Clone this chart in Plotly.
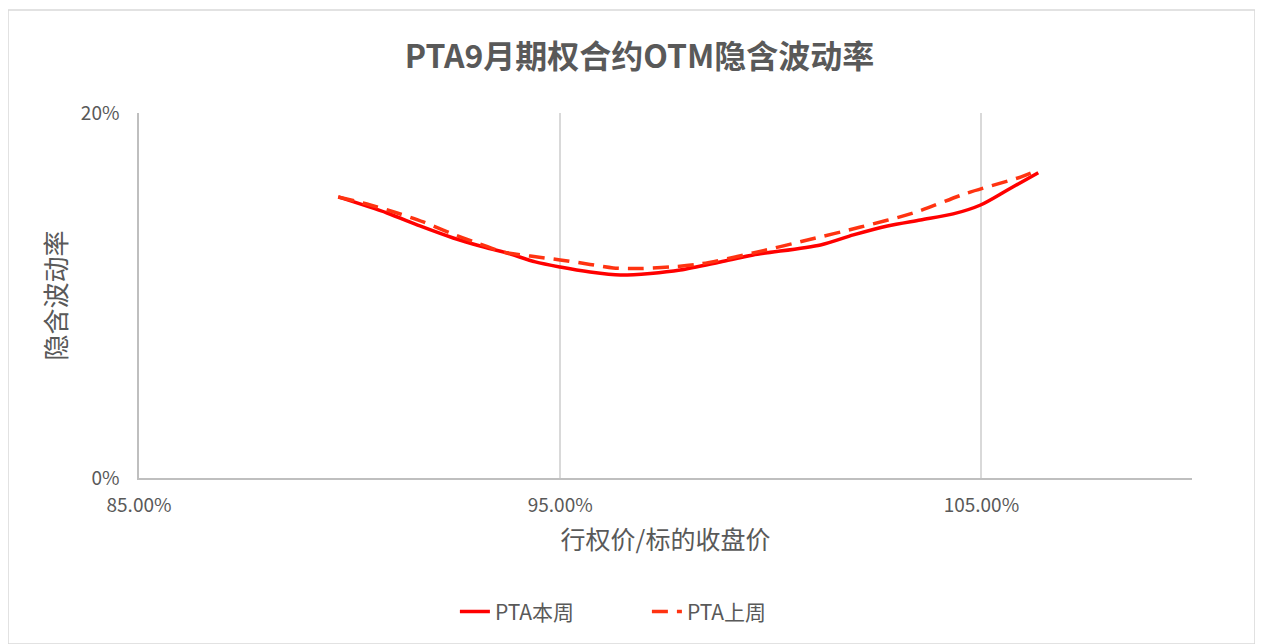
import plotly.graph_objects as go

# strike / underlying close, implied vol
this_week_x = [0.8973, 0.9089, 0.9167, 0.9246, 0.9310, 0.9374, 0.9441, 0.9500, 0.9571, 0.9643,
               0.9714, 0.9785, 0.9880, 0.9958, 1.0118, 1.0196, 1.0277, 1.0355, 1.0433, 1.0498,
               1.0562, 1.0635]
this_week_y = [0.1540, 0.1452, 0.1381, 0.1315, 0.1271, 0.1233, 0.1184, 0.1156, 0.1129, 0.1112,
               0.1121, 0.1140, 0.1184, 0.1222, 0.1277, 0.1332, 0.1381, 0.1414, 0.1447, 0.1496,
               0.1578, 0.1673]

last_week_x = [0.8973, 0.9049, 0.9113, 0.9175, 0.9239, 0.9303, 0.9365, 0.9429, 0.9500, 0.9564,
               0.9626, 0.9690, 0.9761, 0.9833, 0.9958, 1.0087, 1.0213, 1.0338, 1.0467, 1.0593,
               1.0624]
last_week_y = [0.1540, 0.1496, 0.1452, 0.1403, 0.1342, 0.1288, 0.1238, 0.1216, 0.1195, 0.1173,
               0.1151, 0.1148, 0.1156, 0.1173, 0.1233, 0.1304, 0.1375, 0.1452, 0.1562, 0.1649,
               0.1677]

text_color = "#595959"
font_family = "Noto Sans CJK SC, Noto Sans, sans-serif"

fig = go.Figure()
fig.add_trace(go.Scatter(
    x=this_week_x, y=this_week_y, mode="lines", name="PTA本周",
    line=dict(color="#FF0000", width=3.5, shape="spline", smoothing=0.8),
))
fig.add_trace(go.Scatter(
    x=last_week_x, y=last_week_y, mode="lines", name="PTA上周",
    line=dict(color="#FF3311", width=3.5, dash="16px,9px", shape="spline", smoothing=0.8),
))

# outer chart border
fig.add_shape(
    type="rect", xref="paper", yref="paper",
    x0=-0.1244, x1=1.0598, y0=-0.455, y1=1.282,
    line=dict(color="#D9D9D9", width=1.5), layer="below",
)

fig.update_xaxes(
    range=[0.85, 1.10], tick0=0.85, dtick=0.1, tickformat=".2%",
    showgrid=True, gridcolor="#D9D9D9", gridwidth=1.5,
    showline=True, linecolor="#BFBFBF", linewidth=1.5,
    ticks="", zeroline=False, ticklabelstandoff=9,
    tickfont=dict(size=19, color=text_color, family=font_family),
    title=dict(text="行权价/标的收盘价", standoff=16,
               font=dict(size=25, color=text_color, family=font_family)),
)
fig.update_yaxes(
    range=[0, 0.2], tick0=0, dtick=0.2, tickformat=".0%",
    showgrid=True, gridcolor="#D9D9D9", gridwidth=1.5,
    showline=True, linecolor="#BFBFBF", linewidth=1.5,
    ticks="", zeroline=False, ticklabelstandoff=14,
    tickfont=dict(size=19, color=text_color, family=font_family),
    title=dict(text="隐含波动率", standoff=7,
               font=dict(size=26, color=text_color, family=font_family)),
)

fig.update_layout(
    width=1263, height=644,
    margin=dict(l=131, r=79, t=105, b=174),
    paper_bgcolor="white", plot_bgcolor="white",
    title=dict(
        text="<b>PTA9月期权合约OTM隐含波动率</b>",
        x=0.5, xanchor="center", y=0.924, yanchor="middle",
        font=dict(size=32, color=text_color, family=font_family),
    ),
    legend=dict(
        orientation="h", x=0.30, xanchor="left", y=-0.367, yanchor="middle",
        font=dict(size=21, color=text_color, family=font_family),
        entrywidth=147, entrywidthmode="pixels",
    ),
    showlegend=True,
)

fig.write_html("out.html")
